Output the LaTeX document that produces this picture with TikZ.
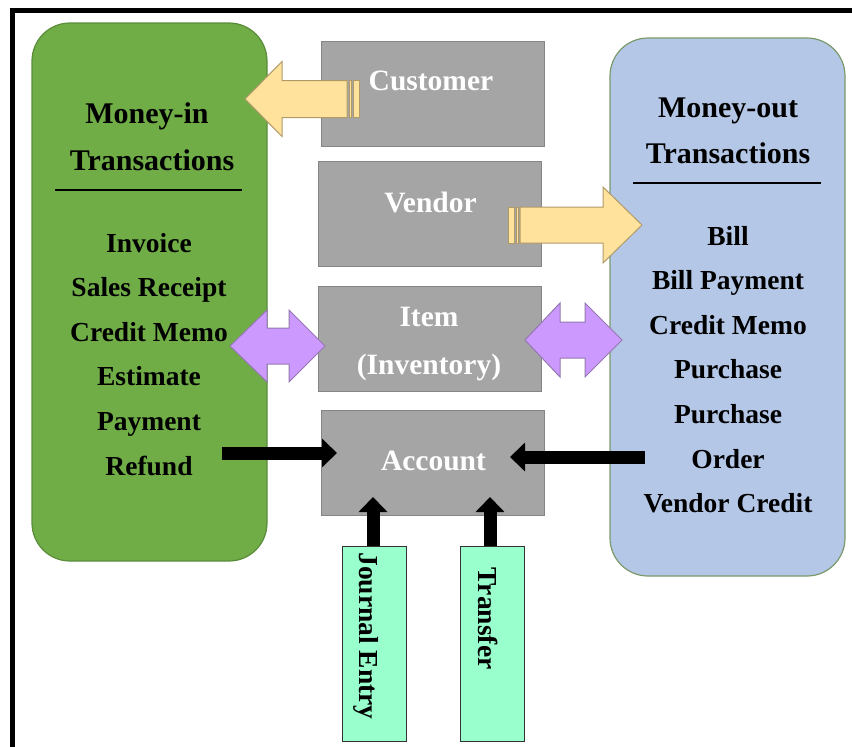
\documentclass[tikz,border=0pt]{standalone}
\usepackage{fontspec}
\setmainfont{Liberation Serif}
\usetikzlibrary{arrows.meta,positioning}

\definecolor{inFill}{HTML}{70AD47}
\definecolor{inLine}{HTML}{5A8C3A}
\definecolor{outFill}{HTML}{B4C7E7}
\definecolor{outLine}{HTML}{7A9A6C}
\definecolor{boxFill}{HTML}{A5A5A5}
\definecolor{boxLine}{HTML}{858585}
\definecolor{linkFill}{HTML}{FFE29C}
\definecolor{linkLine}{HTML}{B09A68}
\definecolor{swapFill}{HTML}{CC99FF}
\definecolor{swapLine}{HTML}{9478B0}
\definecolor{feedFill}{HTML}{99FFCC}

\begin{document}
\begin{tikzpicture}[x=1pt, y=-1pt,
    panel/.style={rectangle, rounded corners=38pt, line width=1.2pt, minimum width=235pt, minimum height=538pt, inner sep=0pt},
    entity/.style={rectangle, draw=boxLine, fill=boxFill, line width=1pt, minimum width=223pt, minimum height=105pt, inner sep=0pt},
    entitylabel/.style={text=white, font=\fontsize{29.5}{36}\selectfont\bfseries, inner sep=0pt, text height=20pt, text depth=7pt},
    heading/.style={font=\fontsize{30}{36}\selectfont\bfseries, inner sep=0pt, text height=20pt, text depth=7pt},
    listitem/.style={font=\fontsize{27.5}{33}\selectfont\bfseries, inner sep=0pt, text height=19pt, text depth=6pt},
    feed/.style={rectangle, draw=black!80, fill=feedFill, line width=1pt, minimum width=64pt, minimum height=195pt, inner sep=0pt},
    feedlabel/.style={font=\fontsize{27.5}{33}\selectfont\bfseries, inner sep=0pt},
    flow/.style={line width=13pt, -{Triangle[length=15pt, width=28pt]}},
    link/.style={draw=linkLine, fill=linkFill, line width=1pt},
    swap/.style={draw=swapLine, fill=swapFill, line width=1pt},
]
    \useasboundingbox (0,0) rectangle (852,747);
    \fill[white] (0,0) rectangle (852,747);
    \draw[line width=4.5pt] (12.5,747) -- (12.5,10.3) -- (852,10.3);

    \node[panel, draw=inLine, fill=inFill] (money_in) at (149.5,292) {};
    \node[heading, anchor=base] (in_head1) at (147,123) {Money-in};
    \node[heading, on grid, below=47pt of in_head1, xshift=5pt] (in_head2) {Transactions};
    \draw[line width=1.5pt] (55,190) -- (242,190);
    \node[listitem, anchor=base] (invoice) at (149,252) {Invoice};
    \node[listitem, on grid, below=44.6pt of invoice] (sales_receipt) {Sales Receipt};
    \node[listitem, on grid, below=44.6pt of sales_receipt] (credit_memo_in) {Credit Memo};
    \node[listitem, on grid, below=44.6pt of credit_memo_in] (estimate) {Estimate};
    \node[listitem, on grid, below=44.6pt of estimate] (payment) {Payment};
    \node[listitem, on grid, below=44.6pt of payment] (refund) {Refund};

    \node[panel, draw=outLine, fill=outFill] (money_out) at (727.5,307) {};
    \node[heading, anchor=base] (out_head1) at (728,117) {Money-out};
    \node[heading, on grid, below=46pt of out_head1] (out_head2) {Transactions};
    \draw[line width=1.5pt] (633,183) -- (821,183);
    \node[listitem, anchor=base] (bill) at (728,245) {Bill};
    \node[listitem, on grid, below=44.6pt of bill] (bill_payment) {Bill Payment};
    \node[listitem, on grid, below=44.6pt of bill_payment] (credit_memo_out) {Credit Memo};
    \node[listitem, on grid, below=44.6pt of credit_memo_out] (purchase) {Purchase};
    \node[listitem, on grid, below=44.6pt of purchase] (purchase_order1) {Purchase};
    \node[listitem, on grid, below=44.6pt of purchase_order1] (purchase_order2) {Order};
    \node[listitem, on grid, below=44.6pt of purchase_order2] (vendor_credit) {Vendor Credit};

    \node[entity] (customer) at (432.5,93.5) {};
    \node[entitylabel, anchor=base] (customer_label) at (431,90) {Customer};
    \node[entity] (vendor) at (430,214) {};
    \node[entitylabel, anchor=base] (vendor_label) at (430.5,212) {Vendor};
    \node[entity] (item) at (430,339) {};
    \node[entitylabel, anchor=base] (item_label1) at (429,326) {Item};
    \node[entitylabel, on grid, below=48pt of item_label1] (item_label2) {(Inventory)};
    \node[entity] (account) at (432.5,462.5) {};
    \node[entitylabel, anchor=base] (account_label) at (433.5,470) {Account};

    % customer -> money-in
    \draw[link] (347,80.5) -- (282,80.5) -- (282,61.5) -- (245,99) -- (282,136.5) -- (282,117.5) -- (347,117.5) -- cycle;
    \draw[link] (349,80.5) rectangle (351,117.5);
    \draw[link] (353,80.5) rectangle (359,117.5);
    % vendor -> money-out
    \draw[link] (520,207) -- (603,207) -- (603,187) -- (642,225) -- (603,263) -- (603,243) -- (520,243) -- cycle;
    \draw[link] (508,207) rectangle (514,243);
    \draw[link] (516,207) rectangle (518,243);
    % item <-> both sides
    \draw[swap] (230,346) -- (267,310) -- (267,328) -- (289,328) -- (289,310) -- (325,346) -- (289,382) -- (289,364) -- (267,364) -- (267,382) -- cycle;
    \draw[swap] (525,340) -- (560,303) -- (560,322) -- (585,322) -- (585,303) -- (622,340) -- (585,377) -- (585,358) -- (560,358) -- (560,377) -- cycle;

    \node[feed] (journal) at (374,643.5) {};
    \node[feedlabel, rotate=-90, anchor=base] (journal_label) at (359,636) {Journal Entry};
    \node[feed] (transfer) at (492.5,643.5) {};
    \node[feedlabel, rotate=-90, anchor=base] (transfer_label) at (478,618.5) {Transfer};

    \coordinate (in_tail) at (222,453);
    \coordinate (in_tip) at (337,453);
    \draw[flow] (in_tail) -- (in_tip);
    \coordinate (out_tail) at (645,457);
    \coordinate (out_tip) at (510,457);
    \draw[flow] (out_tail) -- (out_tip);
    \coordinate (journal_tip) at (373,497);
    \draw[flow] (journal.north -| journal_tip) -- (journal_tip);
    \coordinate (transfer_tip) at (490,497);
    \draw[flow] (transfer.north -| transfer_tip) -- (transfer_tip);

\end{tikzpicture}
\end{document}
